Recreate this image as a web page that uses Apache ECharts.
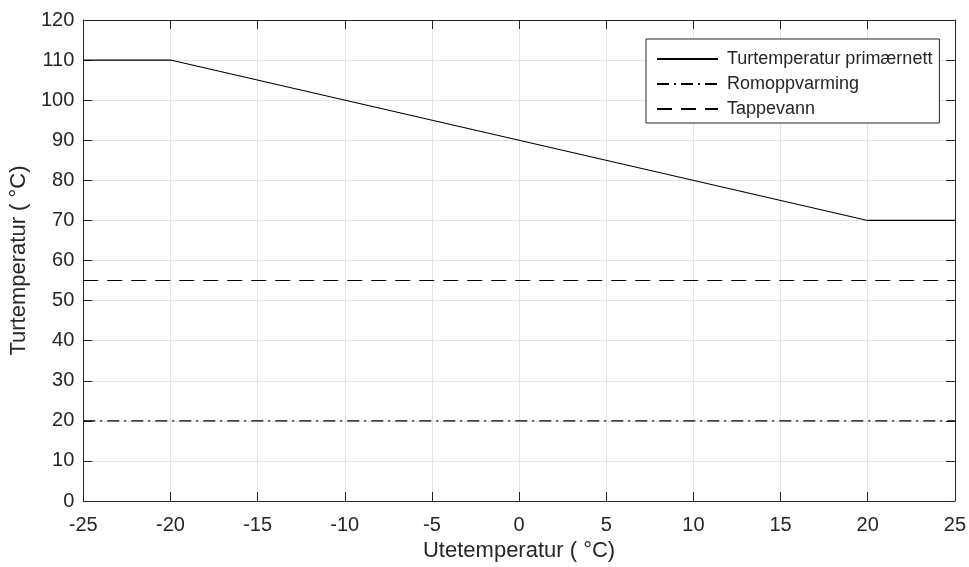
<!DOCTYPE html>
<html>
<head>
<meta charset="utf-8">
<script src="https://cdn.jsdelivr.net/npm/echarts@6/dist/echarts.min.js"></script>
<style>
  html, body { margin: 0; padding: 0; background: #fff; }
  #chart { width: 969px; height: 567px; }
</style>
</head>
<body>
<div id="chart"></div>
<script>
// Outdoor temperature (°C) breakpoints and supply temperatures
const outdoorTemps = [-25, -20, 20, 25];
const primarySupply = [110, 110, 70, 70];
const spaceHeating = [20, 20, 20, 20];
const tapWater = [55, 55, 55, 55];

const seriesNames = ['Turtemperatur primærnett', 'Romoppvarming', 'Tappevann'];
const xTitle = 'Utetemperatur ( °C)';
const yTitle = 'Turtemperatur ( °C)';

const FONT = '"Liberation Sans", Arial, Helvetica, sans-serif';
const AXIS_COLOR = '#262626';

function pairs(xs, ys) { return xs.map((x, i) => [x, ys[i]]); }

const chart = echarts.init(document.getElementById('chart'), null, { renderer: 'canvas' });

const tickStyle = { show: true, inside: true, length: 9, lineStyle: { color: AXIS_COLOR, width: 1 } };
const lineAxis = { show: true, onZero: false, lineStyle: { color: AXIS_COLOR, width: 1 } };

chart.setOption({
  animation: false,
  backgroundColor: '#ffffff',
  grid: { left: 81, right: 10, top: 20, bottom: 64, containLabel: false },
  legend: {
    left: 646, top: 39,
    orient: 'vertical',
    padding: [11, 7, 5, 10],
    itemWidth: 61, itemHeight: 14, itemGap: 7,
    borderColor: AXIS_COLOR, borderWidth: 1,
    backgroundColor: '#ffffff',
    // legend keys show only the line pattern, no marker
    itemStyle: { opacity: 0 },
    textStyle: { fontFamily: FONT, fontSize: 18, color: AXIS_COLOR, padding: [0, 0, 0, 4] },
    data: seriesNames
  },
  xAxis: [{
    type: 'value', min: -25, max: 25, interval: 5,
    name: xTitle, nameLocation: 'middle', nameGap: 39,
    nameTextStyle: { fontFamily: FONT, fontSize: 22, color: AXIS_COLOR },
    axisLine: lineAxis, axisTick: tickStyle,
    axisLabel: { fontFamily: FONT, fontSize: 20, color: AXIS_COLOR, margin: 14 },
    splitLine: { show: true, lineStyle: { color: '#e5e5e5', width: 1 } }
  }, {
    type: 'value', min: -25, max: 25, interval: 5, position: 'top',
    axisLine: lineAxis, axisTick: tickStyle, axisLabel: { show: false }, splitLine: { show: false }
  }],
  yAxis: [{
    type: 'value', min: 0, max: 120, interval: 10,
    name: yTitle, nameLocation: 'middle', nameGap: 46,
    nameTextStyle: { fontFamily: FONT, fontSize: 22, color: AXIS_COLOR },
    axisLine: lineAxis, axisTick: tickStyle,
    axisLabel: { fontFamily: FONT, fontSize: 20, color: AXIS_COLOR, margin: 9 },
    splitLine: { show: true, lineStyle: { color: '#e5e5e5', width: 1 } }
  }, {
    type: 'value', min: 0, max: 120, interval: 10, position: 'right',
    axisLine: lineAxis, axisTick: tickStyle, axisLabel: { show: false }, splitLine: { show: false }
  }],
  series: [{
    name: seriesNames[0], type: 'line', symbol: 'none',
    data: pairs(outdoorTemps, primarySupply),
    lineStyle: { color: '#000000', width: 1.1, type: 'solid' },
    itemStyle: { color: '#000000' }
  }, {
    name: seriesNames[1], type: 'line', symbol: 'none',
    data: pairs(outdoorTemps, spaceHeating),
    lineStyle: { color: '#000000', width: 1.1, type: [12, 5, 2, 5] },
    itemStyle: { color: '#000000' }
  }, {
    name: seriesNames[2], type: 'line', symbol: 'none',
    data: pairs(outdoorTemps, tapWater),
    lineStyle: { color: '#000000', width: 1.1, type: [15, 9] },
    itemStyle: { color: '#000000' }
  }]
});
</script>
</body>
</html>
